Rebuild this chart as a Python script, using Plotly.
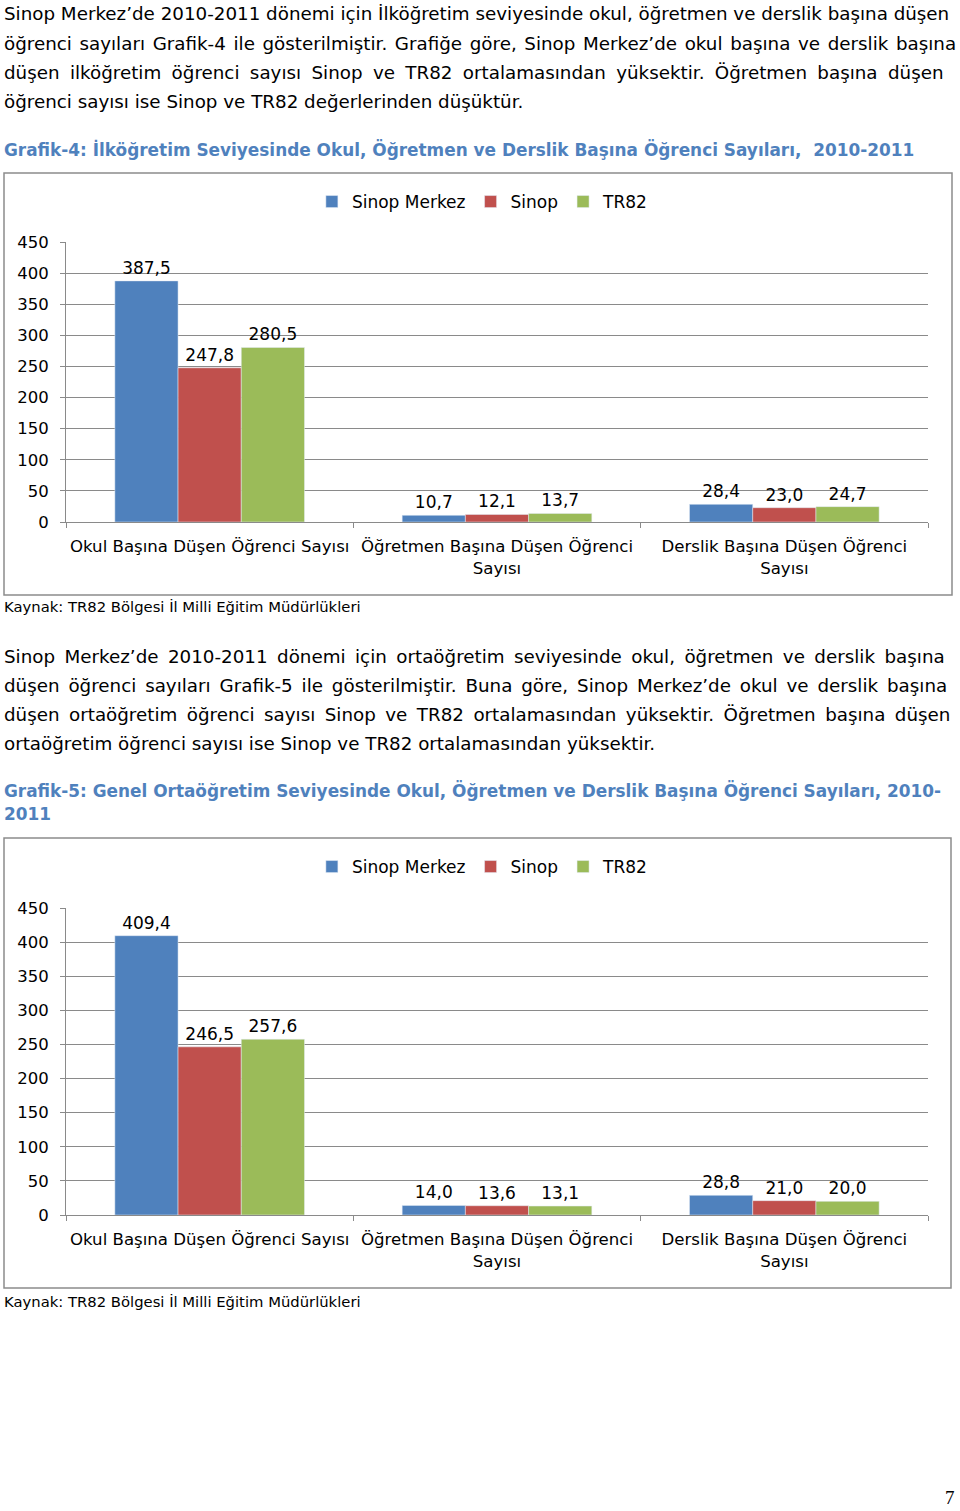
import plotly.graph_objects as go

# ---------------- data ----------------
categories = ["Okul Başına Düşen Öğrenci Sayısı",
              "Öğretmen Başına Düşen Öğrenci<br>Sayısı",
              "Derslik Başına Düşen Öğrenci<br>Sayısı"]
series_names = ["Sinop Merkez", "Sinop", "TR82"]

g4_merkez = [387.5, 10.7, 28.4]
g4_sinop = [247.8, 12.1, 23.0]
g4_tr82 = [280.5, 13.7, 24.7]

g5_merkez = [409.4, 14.0, 28.8]
g5_sinop = [246.5, 13.6, 21.0]
g5_tr82 = [257.6, 13.1, 20.0]

y_ticks = [0, 50, 100, 150, 200, 250, 300, 350, 400, 450]

para1 = [
    "Sinop Merkez’de 2010-2011 dönemi için İlköğretim seviyesinde okul, öğretmen ve derslik başına düşen",
    "öğrenci sayıları Grafik-4 ile gösterilmiştir. Grafiğe göre, Sinop Merkez’de okul başına ve derslik başına",
    "düşen ilköğretim öğrenci sayısı Sinop ve TR82 ortalamasından yüksektir. Öğretmen başına düşen",
    "öğrenci sayısı ise Sinop ve TR82 değerlerinden düşüktür.",
]
para2 = [
    "Sinop Merkez’de 2010-2011 dönemi için ortaöğretim seviyesinde okul, öğretmen ve derslik başına",
    "düşen öğrenci sayıları Grafik-5 ile gösterilmiştir. Buna göre, Sinop Merkez’de okul ve derslik başına",
    "düşen ortaöğretim öğrenci sayısı Sinop ve TR82 ortalamasından yüksektir. Öğretmen başına düşen",
    "ortaöğretim öğrenci sayısı ise Sinop ve TR82 ortalamasından yüksektir.",
]
title4 = "Grafik-4: İlköğretim Seviyesinde Okul, Öğretmen ve Derslik Başına Öğrenci Sayıları,  2010-2011"
title5 = ["Grafik-5: Genel Ortaöğretim Seviyesinde Okul, Öğretmen ve Derslik Başına Öğrenci Sayıları, 2010-",
          "2011"]
source = "Kaynak: TR82 Bölgesi İl Milli Eğitim Müdürlükleri"
page_number = "7"

colors = ["#4F81BD", "#C0504D", "#9BBB59"]

W, H = 960, 1511
FONT = "DejaVu Sans"

# extra inter-word spacing used to imitate the justified paragraphs
JUST1 = ["", "\u200A", "\u2005", ""]
JUST2 = ["\u2009", "\u2006", "\u2009", ""]


def px(x):
    return x / W


def py(y):
    return 1 - y / H


def justify(line, extra):
    if not extra:
        return line
    return (" " + extra).join(line.split(" "))


fig = go.Figure()

for i, (name, vals) in enumerate(zip(series_names, [g4_merkez, g4_sinop, g4_tr82])):
    fig.add_trace(go.Bar(
        x=categories, y=vals, name=name, marker_color=colors[i],
        xaxis="x", yaxis="y", legend="legend",
        texttemplate="%{y:.1f}", textposition="outside", cliponaxis=False,
        constraintext="none",
        textfont=dict(family=FONT, size=17, color="#000")))

for i, (name, vals) in enumerate(zip(series_names, [g5_merkez, g5_sinop, g5_tr82])):
    fig.add_trace(go.Bar(
        x=categories, y=vals, name=name, marker_color=colors[i],
        xaxis="x2", yaxis="y2", legend="legend2",
        texttemplate="%{y:.1f}", textposition="outside", cliponaxis=False,
        constraintext="none",
        textfont=dict(family=FONT, size=17, color="#000")))

grid = "#8a8a8a"
xcommon = dict(type="category", tickangle=0, showline=True, linecolor=grid, linewidth=1,
               ticks="outside", tickson="boundaries", ticklen=5, tickcolor=grid,
               tickfont=dict(family=FONT, size=16.6, color="#000"), showgrid=False,
               ticklabelstandoff=9, fixedrange=True)
ycommon = dict(range=[0, 450], tickvals=y_ticks, showline=True, linecolor=grid, linewidth=1,
               ticks="outside", ticklen=5, tickcolor=grid, showgrid=True, gridcolor=grid,
               gridwidth=1, zeroline=False,
               tickfont=dict(family=FONT, size=16.5, color="#000"), ticklabelstandoff=8)

fig.update_layout(
    width=W, height=H, margin=dict(l=0, r=0, t=0, b=0, autoexpand=False),
    paper_bgcolor="white", plot_bgcolor="white",
    separators=",.",
    barmode="group", bargap=0.34, bargroupgap=0,
    font=dict(family=FONT, color="#000"),
    xaxis=dict(domain=[px(66), px(928)], anchor="y", **xcommon),
    yaxis=dict(domain=[py(522), py(242)], anchor="x", **ycommon),
    xaxis2=dict(domain=[px(66), px(928)], anchor="y2", **xcommon),
    yaxis2=dict(domain=[py(1215), py(908)], anchor="x2", **ycommon),
    legend=dict(orientation="h", x=0.503, xanchor="center", y=py(202), yanchor="middle",
                font=dict(family=FONT, size=17, color="#000"), itemwidth=30,
                bgcolor="rgba(0,0,0,0)"),
    legend2=dict(orientation="h", x=0.503, xanchor="center", y=py(867), yanchor="middle",
                 font=dict(family=FONT, size=17, color="#000"), itemwidth=30,
                 bgcolor="rgba(0,0,0,0)"),
    showlegend=True,
)

# chart frames
fig.add_shape(type="rect", xref="paper", yref="paper", x0=px(4), x1=px(952), y0=py(595), y1=py(173),
              line=dict(color="#8c8c8c", width=1.5))
fig.add_shape(type="rect", xref="paper", yref="paper", x0=px(4), x1=px(951), y0=py(1288), y1=py(838),
              line=dict(color="#8c8c8c", width=1.5))

ann = []


def text(t, x, y, size, color="#000", bold=False, family=FONT, anchor="left"):
    ann.append(dict(text=("<b>%s</b>" % t) if bold else t, x=px(x), y=py(y), xref="paper", yref="paper",
                    xanchor=anchor, yanchor="middle", showarrow=False,
                    font=dict(family=family, size=size, color=color)))


for i, line in enumerate(para1):
    text(justify(line, JUST1[i]), 2, 14 + i * 29.3, 18.3)
for i, line in enumerate(para2):
    text(justify(line, JUST2[i]), 2, 656 + i * 29.2, 18.3)

text(title4, 2, 149, 16.9, color="#4F81BD", bold=True)
text(title5[0], 2, 791, 16.9, color="#4F81BD", bold=True)
text(title5[1], 2, 814, 16.9, color="#4F81BD", bold=True)

text(source, 2, 607, 14.8)
text(source, 2, 1301, 14.8)

text(page_number, 950, 1497, 19, family="Liberation Serif", anchor="center")

fig.update_layout(annotations=ann)

fig.write_html("out.html")
